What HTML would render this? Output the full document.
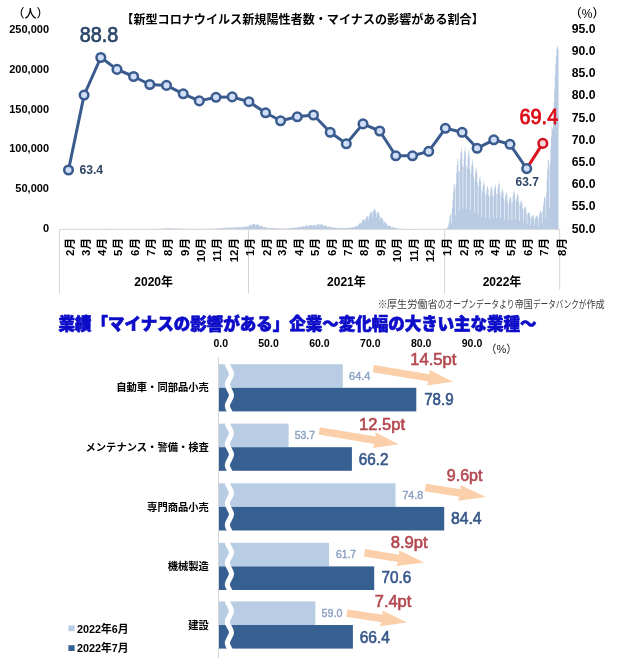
<!DOCTYPE html>
<html lang="ja"><head><meta charset="utf-8"><title>chart</title>
<style>html,body{margin:0;padding:0;background:#fff}svg{display:block}</style></head>
<body>
<svg width="619" height="658" viewBox="0 0 619 658" font-family='"Liberation Sans", "Noto Sans CJK JP", sans-serif'>
<rect width="619" height="658" fill="#fff"/>
<text x="121.3" y="24.0" font-size="12" font-weight="bold" fill="#000" textLength="362.5" lengthAdjust="spacingAndGlyphs">【新型コロナウイルス新規陽性者数・マイナスの影響がある割合】</text>
<text x="30.4" y="17.9" font-size="12" font-weight="500" fill="#000" text-anchor="middle">（人）</text>
<text x="587.2" y="17.6" font-size="12" font-weight="500" fill="#000" text-anchor="middle">（%）</text>
<text x="49.0" y="33.1" font-size="11" font-weight="bold" fill="#000" text-anchor="end">250,000</text>
<text x="49.0" y="72.8" font-size="11" font-weight="bold" fill="#000" text-anchor="end">200,000</text>
<text x="49.0" y="112.5" font-size="11" font-weight="bold" fill="#000" text-anchor="end">150,000</text>
<text x="49.0" y="152.3" font-size="11" font-weight="bold" fill="#000" text-anchor="end">100,000</text>
<text x="49.0" y="192.0" font-size="11" font-weight="bold" fill="#000" text-anchor="end">50,000</text>
<text x="49.0" y="231.8" font-size="11" font-weight="bold" fill="#000" text-anchor="end">0</text>
<text x="571.7" y="32.7" font-size="12.2" font-weight="bold" fill="#000" textLength="23.8" lengthAdjust="spacingAndGlyphs">95.0</text>
<text x="571.7" y="54.9" font-size="12.2" font-weight="bold" fill="#000" textLength="23.8" lengthAdjust="spacingAndGlyphs">90.0</text>
<text x="571.7" y="77.1" font-size="12.2" font-weight="bold" fill="#000" textLength="23.8" lengthAdjust="spacingAndGlyphs">85.0</text>
<text x="571.7" y="99.3" font-size="12.2" font-weight="bold" fill="#000" textLength="23.8" lengthAdjust="spacingAndGlyphs">80.0</text>
<text x="571.7" y="121.5" font-size="12.2" font-weight="bold" fill="#000" textLength="23.8" lengthAdjust="spacingAndGlyphs">75.0</text>
<text x="571.7" y="143.7" font-size="12.2" font-weight="bold" fill="#000" textLength="23.8" lengthAdjust="spacingAndGlyphs">70.0</text>
<text x="571.7" y="165.9" font-size="12.2" font-weight="bold" fill="#000" textLength="23.8" lengthAdjust="spacingAndGlyphs">65.0</text>
<text x="571.7" y="188.1" font-size="12.2" font-weight="bold" fill="#000" textLength="23.8" lengthAdjust="spacingAndGlyphs">60.0</text>
<text x="571.7" y="210.3" font-size="12.2" font-weight="bold" fill="#000" textLength="23.8" lengthAdjust="spacingAndGlyphs">55.0</text>
<text x="571.7" y="232.5" font-size="12.2" font-weight="bold" fill="#000" textLength="23.8" lengthAdjust="spacingAndGlyphs">50.0</text>
<path d="M58.89 229.30V229.30H59.42V229.30H59.96V229.30H60.50V229.30H61.04V229.30H61.58V229.30H62.12V229.30H62.65V229.30H63.19V229.30H63.73V229.30H64.27V229.30H64.81V229.30H65.35V229.30H65.88V229.30H66.42V229.30H66.96V229.30H67.50V229.30H68.04V229.30H68.58V229.30H69.12V229.30H69.65V229.30H70.19V229.30H70.73V229.30H71.27V229.30H71.81V229.30H72.35V229.30H72.88V229.30H73.42V229.29H73.96V229.29H74.50V229.30H75.04V229.29H75.58V229.29H76.11V229.29H76.65V229.29H77.19V229.29H77.73V229.29H78.27V229.29H78.81V229.29H79.34V229.29H79.88V229.29H80.42V229.29H80.96V229.29H81.50V229.29H82.04V229.29H82.58V229.29H83.11V229.29H83.65V229.29H84.19V229.28H84.73V229.28H85.27V229.28H85.81V229.29H86.34V229.28H86.88V229.28H87.42V229.28H87.96V229.27H88.50V229.27H89.04V229.27H89.57V229.28H90.11V229.27H90.65V229.27H91.19V229.26H91.73V229.26H92.27V229.26H92.80V229.26H93.34V229.27H93.88V229.25H94.42V229.25H94.96V229.24H95.50V229.23H96.04V229.23H96.57V229.23H97.11V229.24H97.65V229.20H98.19V229.18H98.73V229.16H99.27V229.13H99.80V229.11H100.34V229.11H100.88V229.15H101.42V229.07H101.96V229.03H102.50V229.00H103.03V228.96H103.57V228.94H104.11V228.94H104.65V229.03H105.19V228.90H105.73V228.85H106.26V228.84H106.80V228.85H107.34V228.88H107.88V228.92H108.42V229.04H108.96V228.95H109.50V228.94H110.03V228.93H110.57V228.94H111.11V228.98H111.65V229.02H112.19V229.11H112.73V229.05H113.26V229.05H113.80V229.05H114.34V229.06H114.88V229.08H115.42V229.11H115.96V229.17H116.49V229.14H117.03V229.14H117.57V229.15H118.11V229.16H118.65V229.18H119.19V229.20H119.72V229.23H120.26V229.21H120.80V229.22H121.34V229.22H121.88V229.23H122.42V229.23H122.96V229.24H123.49V229.26H124.03V229.25H124.57V229.26H125.11V229.26H125.65V229.26H126.19V229.27H126.72V229.27H127.26V229.28H127.80V229.27H128.34V229.27H128.88V229.27H129.42V229.27H129.95V229.27H130.49V229.27H131.03V229.28H131.57V229.27H132.11V229.27H132.65V229.27H133.18V229.27H133.72V229.27H134.26V229.27H134.80V229.28H135.34V229.27H135.88V229.26H136.42V229.26H136.95V229.26H137.49V229.26H138.03V229.26H138.57V229.27H139.11V229.26H139.65V229.26H140.18V229.26H140.72V229.25H141.26V229.25H141.80V229.25H142.34V229.27H142.88V229.25H143.41V229.24H143.95V229.24H144.49V229.23H145.03V229.23H145.57V229.24H146.11V229.25H146.64V229.23H147.18V229.21H147.72V229.20H148.26V229.19H148.80V229.19H149.34V229.19H149.88V229.21H150.41V229.17H150.95V229.14H151.49V229.12H152.03V229.10H152.57V229.09H153.11V229.08H153.64V229.13H154.18V229.05H154.72V229.01H155.26V228.99H155.80V228.96H156.34V228.95H156.87V228.95H157.41V229.04H157.95V228.91H158.49V228.86H159.03V228.81H159.57V228.77H160.10V228.75H160.64V228.76H161.18V228.89H161.72V228.69H162.26V228.60H162.80V228.52H163.34V228.45H163.87V228.42H164.41V228.43H164.95V228.65H165.49V228.32H166.03V228.24H166.57V228.18H167.10V228.14H167.64V228.16H168.18V228.23H168.72V228.54H169.26V228.22H169.80V228.18H170.33V228.17H170.87V228.18H171.41V228.26H171.95V228.37H172.49V228.67H173.03V228.44H173.56V228.40H174.10V228.39H174.64V228.39H175.18V228.45H175.72V228.53H176.26V228.77H176.80V228.58H177.33V228.55H177.87V228.54H178.41V228.54H178.95V228.59H179.49V228.67H180.03V228.88H180.56V228.73H181.10V228.71H181.64V228.71H182.18V228.72H182.72V228.76H183.26V228.82H183.79V228.98H184.33V228.86H184.87V228.83H185.41V228.82H185.95V228.82H186.49V228.84H187.02V228.88H187.56V229.01H188.10V228.89H188.64V228.87H189.18V228.86H189.72V228.85H190.26V228.87H190.79V228.91H191.33V229.03H191.87V228.92H192.41V228.90H192.95V228.88H193.49V228.87H194.02V228.88H194.56V228.91H195.10V229.02H195.64V228.91H196.18V228.88H196.72V228.86H197.25V228.84H197.79V228.86H198.33V228.89H198.87V229.01H199.41V228.89H199.95V228.86H200.48V228.84H201.02V228.83H201.56V228.85H202.10V228.88H202.64V229.01H203.18V228.89H203.72V228.86H204.25V228.84H204.79V228.83H205.33V228.84H205.87V228.88H206.41V229.00H206.95V228.87H207.48V228.83H208.02V228.80H208.56V228.78H209.10V228.79H209.64V228.82H210.18V228.96H210.71V228.81H211.25V228.77H211.79V228.74H212.33V228.71H212.87V228.72H213.41V228.76H213.94V228.91H214.48V228.75H215.02V228.70H215.56V228.64H216.10V228.59H216.64V228.57H217.18V228.60H217.71V228.78H218.25V228.53H218.79V228.43H219.33V228.35H219.87V228.27H220.41V228.25H220.94V228.27H221.48V228.54H222.02V228.17H222.56V228.01H223.10V227.88H223.64V227.76H224.17V227.73H224.71V227.76H225.25V228.16H225.79V227.69H226.33V227.56H226.87V227.49H227.40V227.44H227.94V227.50H228.48V227.63H229.02V228.12H229.56V227.64H230.10V227.51H230.64V227.44H231.17V227.38H231.71V227.42H232.25V227.53H232.79V228.04H233.33V227.50H233.87V227.34H234.40V227.23H234.94V227.14H235.48V227.18H236.02V227.31H236.56V227.89H237.10V227.32H237.63V227.15H238.17V227.06H238.71V226.98H239.25V227.04H239.79V227.20H240.33V227.82H240.86V227.21H241.40V227.03H241.94V226.89H242.48V226.76H243.02V226.78H243.56V226.92H244.10V227.58H244.63V226.83H245.17V226.58H245.71V226.40H246.25V226.25H246.79V226.28H247.33V226.44H247.86V227.15H248.40V226.09H248.94V225.62H249.48V225.22H250.02V224.83H250.56V224.69H251.09V224.76H251.63V225.90H252.17V224.43H252.71V223.96H253.25V223.64H253.79V223.63H254.32V223.95H254.86V224.47H255.40V225.99H255.94V224.77H256.48V224.54H257.02V224.47H257.56V224.46H258.09V224.73H258.63V225.32H259.17V226.66H259.71V225.80H260.25V225.75H260.79V225.82H261.32V225.92H261.86V226.22H262.40V226.61H262.94V227.52H263.48V226.94H264.02V226.90H264.55V226.95H265.09V227.01H265.63V227.20H266.17V227.46H266.71V228.07H267.25V227.67H267.78V227.64H268.32V227.66H268.86V227.70H269.40V227.84H269.94V228.00H270.48V228.42H271.02V228.10H271.55V228.06H272.09V228.06H272.63V228.07H273.17V228.15H273.71V228.28H274.25V228.61H274.78V228.36H275.32V228.31H275.86V228.30H276.40V228.29H276.94V228.35H277.48V228.44H278.01V228.71H278.55V228.49H279.09V228.44H279.63V228.43H280.17V228.40H280.71V228.42H281.24V228.48H281.78V228.72H282.32V228.48H282.86V228.42H283.40V228.38H283.94V228.34H284.48V228.37H285.01V228.42H285.55V228.67H286.09V228.40H286.63V228.31H287.17V228.25H287.71V228.20H288.24V228.21H288.78V228.27H289.32V228.56H289.86V228.25H290.40V228.12H290.94V228.02H291.47V227.92H292.01V227.91H292.55V227.96H293.09V228.32H293.63V227.86H294.17V227.68H294.70V227.55H295.24V227.42H295.78V227.40H296.32V227.47H296.86V227.97H297.40V227.37H297.94V227.14H298.47V226.98H299.01V226.83H299.55V226.83H300.09V226.94H300.63V227.58H301.17V226.80H301.70V226.53H302.24V226.33H302.78V226.16H303.32V226.17H303.86V226.32H304.40V227.14H304.93V226.18H305.47V225.83H306.01V225.59H306.55V225.37H307.09V225.46H307.63V225.71H308.16V226.74H308.70V225.67H309.24V225.35H309.78V225.15H310.32V224.98H310.86V225.08H311.40V225.35H311.93V226.49H312.47V225.32H313.01V225.13H313.55V225.08H314.09V225.09H314.63V225.34H315.16V225.47H315.70V226.48H316.24V225.16H316.78V224.64H317.32V224.23H317.86V223.85H318.39V223.79H318.93V224.33H319.47V225.89H320.01V224.64H320.55V224.41H321.09V224.35H321.62V224.34H322.16V224.62H322.70V225.09H323.24V226.48H323.78V225.53H324.32V225.44H324.86V225.48H325.39V225.57H325.93V225.86H326.47V226.28H327.01V227.28H327.55V226.60H328.09V226.53H328.62V226.56H329.16V226.62H329.70V226.83H330.24V227.12H330.78V227.84H331.32V227.34H331.85V227.29H332.39V227.31H332.93V227.35H333.47V227.50H334.01V227.71H334.55V228.22H335.08V227.83H335.62V227.78H336.16V227.77H336.70V227.78H337.24V227.88H337.78V228.03H338.32V228.44H338.85V228.13H339.39V228.08H339.93V228.03H340.47V227.98H341.01V228.02H341.55V228.11H342.08V228.45H342.62V228.10H343.16V228.00H343.70V227.94H344.24V227.90H344.78V227.93H345.31V228.03H345.85V228.38H346.39V227.97H346.93V227.83H347.47V227.73H348.01V227.64H348.54V227.65H349.08V227.73H349.62V228.16H350.16V227.66H350.70V227.45H351.24V227.28H351.78V227.11H352.31V227.08H352.85V227.15H353.39V227.71H353.93V226.95H354.47V226.65H355.01V226.40H355.54V226.17H356.08V226.00H356.62V225.96H357.16V226.73H357.70V225.36H358.24V224.66H358.77V224.02H359.31V223.37H359.85V223.03H360.39V222.96H360.93V224.42H361.47V221.81H362.00V220.49H362.54V219.83H363.08V219.23H363.62V219.23H364.16V219.67H364.70V222.29H365.24V219.13H365.77V217.97H366.31V217.12H366.85V216.35H367.39V216.25H367.93V216.72H368.47V220.07H369.00V215.80H369.54V214.14H370.08V212.87H370.62V211.69H371.16V211.54H371.70V212.19H372.23V216.74H372.77V211.64H373.31V210.25H373.85V209.45H374.39V208.85H374.93V209.48H375.46V211.58H376.00V217.24H376.54V212.93H377.08V212.25H377.62V212.16H378.16V212.26H378.70V213.36H379.23V215.50H379.77V220.20H380.31V217.33H380.85V217.23H381.39V217.54H381.93V217.98H382.46V219.04H383.00V220.41H383.54V223.44H384.08V221.82H384.62V221.96H385.16V222.36H385.69V222.80H386.23V223.58H386.77V224.48H387.31V226.21H387.85V225.36H388.39V225.44H388.92V225.64H389.46V225.83H390.00V226.20H390.54V226.65H391.08V227.58H391.62V227.07H392.16V227.08H392.69V227.17H393.23V227.28H393.77V227.49H394.31V227.76H394.85V228.30H395.39V228.01H395.92V228.04H396.46V228.10H397.00V228.18H397.54V228.31H398.08V228.47H398.62V228.77H399.15V228.62H399.69V228.63H400.23V228.65H400.77V228.68H401.31V228.75H401.85V228.83H402.38V228.99H402.92V228.90H403.46V228.90H404.00V228.92H404.54V228.93H405.08V228.97H405.62V229.01H406.15V229.10H406.69V229.03H407.23V229.02H407.77V229.02H408.31V229.02H408.85V229.04H409.38V229.07H409.92V229.15H410.46V229.09H411.00V229.08H411.54V229.08H412.08V229.08H412.61V229.10H413.15V229.12H413.69V229.18H414.23V229.13H414.77V229.13H415.31V229.13H415.84V229.13H416.38V229.14H416.92V229.16H417.46V229.20H418.00V229.17H418.54V229.16H419.08V229.16H419.61V229.16H420.15V229.17H420.69V229.18H421.23V229.22H421.77V229.19H422.31V229.18H422.84V229.18H423.38V229.18H423.92V229.19H424.46V229.20H425.00V229.23H425.54V229.21H426.07V229.20H426.61V229.20H427.15V229.20H427.69V229.21H428.23V229.21H428.77V229.24H429.30V229.21H429.84V229.20H430.38V229.20H430.92V229.19H431.46V229.19H432.00V229.20H432.54V229.23H433.07V229.20H433.61V229.19H434.15V229.18H434.69V229.18H435.23V229.18H435.77V229.18H436.30V229.21H436.84V229.17H437.38V229.15H437.92V229.13H438.46V229.12H439.00V229.11H439.53V229.12H440.07V229.16H440.61V229.10H441.15V229.06H441.69V229.03H442.23V229.00H442.76V228.99H443.30V228.99H443.84V229.07H444.38V228.88H444.92V228.71H445.46V228.76H446.00V228.13H446.53V227.65H447.07V227.11H447.61V228.28H448.15V225.26H448.69V222.47H449.23V219.48H449.76V216.32H450.30V213.84H450.84V213.48H451.38V223.32H451.92V208.17H452.46V199.79H452.99V192.35H453.53V185.04H454.07V184.06H454.61V188.39H455.15V215.24H455.69V184.27H456.22V173.11H456.76V165.03H457.30V158.13H457.84V161.55H458.38V171.18H458.92V210.25H459.46V170.90H459.99V159.30H460.53V152.15H461.07V146.41H461.61V151.82H462.15V164.40H462.69V208.53H463.22V167.07H463.76V156.37H464.30V150.68H464.84V146.65H465.38V152.68H465.92V165.38H466.45V208.92H466.99V168.50H467.53V158.35H468.07V153.12H468.61V149.55H469.15V155.77H469.68V168.83H470.22V210.30H470.76V173.47H471.30V165.15H471.84V161.51H472.38V159.49H472.92V165.81H473.45V177.07H473.99V212.81H474.53V180.55H475.07V172.97H475.61V169.42H476.15V167.25H476.68V172.50H477.22V182.72H477.76V214.72H478.30V186.60H478.84V180.43H479.38V177.86H479.91V176.55H480.45V181.50H480.99V189.65H481.53V216.73H482.07V192.02H482.61V186.06H483.14V183.16H483.68V181.29H484.22V185.18H484.76V192.82H485.30V217.78H485.84V195.24H486.38V189.93H486.91V187.45H487.45V185.92H487.99V189.59H488.53V195.87H489.07V218.53H489.61V196.83H490.14V191.01H490.68V187.75H491.22V185.35H491.76V188.22H492.30V194.73H492.84V218.19H493.37V195.88H493.91V189.98H494.45V186.74H494.99V184.38H495.53V187.41H496.07V193.81H496.60V217.81H497.14V194.48H497.68V188.03H498.22V184.31H498.76V181.48H499.30V184.59H499.84V192.77H500.37V217.90H500.91V196.04H501.45V191.36H501.99V189.53H502.53V188.68H503.07V192.62H503.60V198.81H504.14V219.61H504.68V200.50H505.22V195.82H505.76V193.49H506.30V191.95H506.83V194.97H507.37V201.13H507.91V220.47H508.45V203.42H508.99V199.65H509.53V198.05H510.06V196.74H510.60V197.99H511.14V202.18H511.68V220.33H512.22V201.57H512.76V195.79H513.30V192.08H513.83V190.13H514.37V193.23H514.91V199.35H515.45V219.80H515.99V201.08H516.53V196.52H517.06V194.28H517.60V193.16H518.14V196.66H518.68V202.74H519.22V221.05H519.76V205.33H520.29V202.09H520.83V200.92H521.37V200.43H521.91V203.25H522.45V208.12H522.99V222.73H523.52V210.22H524.06V207.67H524.60V206.76H525.14V206.44H525.68V208.83H526.22V212.80H526.76V224.23H527.29V214.73H527.83V212.96H528.37V212.47H528.91V212.44H529.45V214.22H529.99V216.90H530.52V225.41H531.06V217.86H531.60V216.17H532.14V215.43H532.68V215.02H533.22V216.32H533.75V218.42H534.29V225.81H534.83V218.84H535.37V217.02H535.91V216.05H536.45V215.35H536.98V216.33H537.52V218.03H538.06V225.46H538.60V217.10H539.14V214.19H539.68V212.13H540.22V210.31H540.75V210.80H541.29V213.07H541.83V223.72H542.37V211.03H542.91V206.09H543.45V202.32H543.98V197.61H544.52V196.15H545.06V198.42H545.60V218.41H546.14V193.16H546.68V180.37H547.21V169.44H547.75V159.72H548.29V159.61H548.83V166.66H549.37V208.04H549.91V162.54H550.44V147.46H550.98V136.34H551.52V126.59H552.06V129.26H552.60V127.94H553.14V115.38H553.68V102.27H554.21V89.19H554.75V75.66H555.29V64.25H555.83V56.81H556.37V49.37H556.91V45.05H557.44V47.19H557.98V49.34H558.52V229.30Z" fill="#b8cbe3"/>
<path d="M59.4 229.3H559.7" stroke="#d4d4d4" stroke-width="1" fill="none"/>
<path d="M59.4 229.3V293.6" stroke="#d4d4d4" stroke-width="1" fill="none"/>
<path d="M248.5 229.3V293.6" stroke="#d4d4d4" stroke-width="1" fill="none"/>
<path d="M444.6 229.3V293.6" stroke="#d4d4d4" stroke-width="1" fill="none"/>
<path d="M559.7 229.3V290" stroke="#d4d4d4" stroke-width="1" fill="none"/>
<text transform="translate(73.9 238.0) rotate(-90)" font-size="11.5" font-weight="bold" text-anchor="end">2月</text>
<text transform="translate(89.5 238.0) rotate(-90)" font-size="11.5" font-weight="bold" text-anchor="end">3月</text>
<text transform="translate(106.2 238.0) rotate(-90)" font-size="11.5" font-weight="bold" text-anchor="end">4月</text>
<text transform="translate(122.4 238.0) rotate(-90)" font-size="11.5" font-weight="bold" text-anchor="end">5月</text>
<text transform="translate(139.0 238.0) rotate(-90)" font-size="11.5" font-weight="bold" text-anchor="end">6月</text>
<text transform="translate(155.2 238.0) rotate(-90)" font-size="11.5" font-weight="bold" text-anchor="end">7月</text>
<text transform="translate(171.9 238.0) rotate(-90)" font-size="11.5" font-weight="bold" text-anchor="end">8月</text>
<text transform="translate(188.6 238.0) rotate(-90)" font-size="11.5" font-weight="bold" text-anchor="end">9月</text>
<text transform="translate(204.7 238.0) rotate(-90)" font-size="11.5" font-weight="bold" text-anchor="end">10月</text>
<text transform="translate(221.4 238.0) rotate(-90)" font-size="11.5" font-weight="bold" text-anchor="end">11月</text>
<text transform="translate(237.6 238.0) rotate(-90)" font-size="11.5" font-weight="bold" text-anchor="end">12月</text>
<text transform="translate(254.3 238.0) rotate(-90)" font-size="11.5" font-weight="bold" text-anchor="end">1月</text>
<text transform="translate(271.0 238.0) rotate(-90)" font-size="11.5" font-weight="bold" text-anchor="end">2月</text>
<text transform="translate(286.0 238.0) rotate(-90)" font-size="11.5" font-weight="bold" text-anchor="end">3月</text>
<text transform="translate(302.7 238.0) rotate(-90)" font-size="11.5" font-weight="bold" text-anchor="end">4月</text>
<text transform="translate(318.9 238.0) rotate(-90)" font-size="11.5" font-weight="bold" text-anchor="end">5月</text>
<text transform="translate(335.6 238.0) rotate(-90)" font-size="11.5" font-weight="bold" text-anchor="end">6月</text>
<text transform="translate(351.7 238.0) rotate(-90)" font-size="11.5" font-weight="bold" text-anchor="end">7月</text>
<text transform="translate(368.4 238.0) rotate(-90)" font-size="11.5" font-weight="bold" text-anchor="end">8月</text>
<text transform="translate(385.1 238.0) rotate(-90)" font-size="11.5" font-weight="bold" text-anchor="end">9月</text>
<text transform="translate(401.2 238.0) rotate(-90)" font-size="11.5" font-weight="bold" text-anchor="end">10月</text>
<text transform="translate(417.9 238.0) rotate(-90)" font-size="11.5" font-weight="bold" text-anchor="end">11月</text>
<text transform="translate(434.1 238.0) rotate(-90)" font-size="11.5" font-weight="bold" text-anchor="end">12月</text>
<text transform="translate(450.8 238.0) rotate(-90)" font-size="11.5" font-weight="bold" text-anchor="end">1月</text>
<text transform="translate(467.5 238.0) rotate(-90)" font-size="11.5" font-weight="bold" text-anchor="end">2月</text>
<text transform="translate(482.5 238.0) rotate(-90)" font-size="11.5" font-weight="bold" text-anchor="end">3月</text>
<text transform="translate(499.2 238.0) rotate(-90)" font-size="11.5" font-weight="bold" text-anchor="end">4月</text>
<text transform="translate(515.4 238.0) rotate(-90)" font-size="11.5" font-weight="bold" text-anchor="end">5月</text>
<text transform="translate(532.1 238.0) rotate(-90)" font-size="11.5" font-weight="bold" text-anchor="end">6月</text>
<text transform="translate(548.2 238.0) rotate(-90)" font-size="11.5" font-weight="bold" text-anchor="end">7月</text>
<text transform="translate(565.6 238.0) rotate(-90)" font-size="11.5" font-weight="bold" text-anchor="end">8月</text>
<text x="153.7" y="286.4" font-size="12" font-weight="bold" fill="#000" text-anchor="middle">2020年</text>
<text x="346.4" y="286.4" font-size="12" font-weight="bold" fill="#000" text-anchor="middle">2021年</text>
<text x="502.0" y="286.4" font-size="12" font-weight="bold" fill="#000" text-anchor="middle">2022年</text>
<polyline points="68.5,170.0 84.1,95.1 100.8,57.5 117.0,69.4 133.6,76.5 149.8,84.5 166.5,85.4 183.2,93.8 199.3,100.9 216.0,97.3 232.2,96.9 248.9,101.7 265.6,112.8 280.6,120.8 297.3,116.8 313.5,115.0 330.2,132.3 346.3,143.8 363.0,123.9 379.7,131.0 395.8,155.8 412.5,155.8 428.7,151.4 445.4,128.3 462.1,132.3 477.1,148.3 493.8,139.8 510.0,144.3 526.7,168.6" fill="none" stroke="#3a5b8e" stroke-width="3.0" stroke-linejoin="round"/>
<path d="M526.7 168.6L542.8 143.4" stroke="#dc1420" stroke-width="3.0" fill="none"/>
<circle cx="68.5" cy="170.0" r="4.3" fill="#d0def7" stroke="#3a5b8e" stroke-width="2.5"/>
<circle cx="84.1" cy="95.1" r="4.3" fill="#d0def7" stroke="#3a5b8e" stroke-width="2.5"/>
<circle cx="100.8" cy="57.5" r="4.3" fill="#d0def7" stroke="#3a5b8e" stroke-width="2.5"/>
<circle cx="117.0" cy="69.4" r="4.3" fill="#d0def7" stroke="#3a5b8e" stroke-width="2.5"/>
<circle cx="133.6" cy="76.5" r="4.3" fill="#d0def7" stroke="#3a5b8e" stroke-width="2.5"/>
<circle cx="149.8" cy="84.5" r="4.3" fill="#d0def7" stroke="#3a5b8e" stroke-width="2.5"/>
<circle cx="166.5" cy="85.4" r="4.3" fill="#d0def7" stroke="#3a5b8e" stroke-width="2.5"/>
<circle cx="183.2" cy="93.8" r="4.3" fill="#d0def7" stroke="#3a5b8e" stroke-width="2.5"/>
<circle cx="199.3" cy="100.9" r="4.3" fill="#d0def7" stroke="#3a5b8e" stroke-width="2.5"/>
<circle cx="216.0" cy="97.3" r="4.3" fill="#d0def7" stroke="#3a5b8e" stroke-width="2.5"/>
<circle cx="232.2" cy="96.9" r="4.3" fill="#d0def7" stroke="#3a5b8e" stroke-width="2.5"/>
<circle cx="248.9" cy="101.7" r="4.3" fill="#d0def7" stroke="#3a5b8e" stroke-width="2.5"/>
<circle cx="265.6" cy="112.8" r="4.3" fill="#d0def7" stroke="#3a5b8e" stroke-width="2.5"/>
<circle cx="280.6" cy="120.8" r="4.3" fill="#d0def7" stroke="#3a5b8e" stroke-width="2.5"/>
<circle cx="297.3" cy="116.8" r="4.3" fill="#d0def7" stroke="#3a5b8e" stroke-width="2.5"/>
<circle cx="313.5" cy="115.0" r="4.3" fill="#d0def7" stroke="#3a5b8e" stroke-width="2.5"/>
<circle cx="330.2" cy="132.3" r="4.3" fill="#d0def7" stroke="#3a5b8e" stroke-width="2.5"/>
<circle cx="346.3" cy="143.8" r="4.3" fill="#d0def7" stroke="#3a5b8e" stroke-width="2.5"/>
<circle cx="363.0" cy="123.9" r="4.3" fill="#d0def7" stroke="#3a5b8e" stroke-width="2.5"/>
<circle cx="379.7" cy="131.0" r="4.3" fill="#d0def7" stroke="#3a5b8e" stroke-width="2.5"/>
<circle cx="395.8" cy="155.8" r="4.3" fill="#d0def7" stroke="#3a5b8e" stroke-width="2.5"/>
<circle cx="412.5" cy="155.8" r="4.3" fill="#d0def7" stroke="#3a5b8e" stroke-width="2.5"/>
<circle cx="428.7" cy="151.4" r="4.3" fill="#d0def7" stroke="#3a5b8e" stroke-width="2.5"/>
<circle cx="445.4" cy="128.3" r="4.3" fill="#d0def7" stroke="#3a5b8e" stroke-width="2.5"/>
<circle cx="462.1" cy="132.3" r="4.3" fill="#d0def7" stroke="#3a5b8e" stroke-width="2.5"/>
<circle cx="477.1" cy="148.3" r="4.3" fill="#d0def7" stroke="#3a5b8e" stroke-width="2.5"/>
<circle cx="493.8" cy="139.8" r="4.3" fill="#d0def7" stroke="#3a5b8e" stroke-width="2.5"/>
<circle cx="510.0" cy="144.3" r="4.3" fill="#d0def7" stroke="#3a5b8e" stroke-width="2.5"/>
<circle cx="526.7" cy="168.6" r="4.3" fill="#d0def7" stroke="#3a5b8e" stroke-width="2.5"/>
<circle cx="542.8" cy="143.4" r="4.3" fill="#f5d5dc" stroke="#d4101c" stroke-width="2.5"/>
<text x="79.4" y="174.0" font-size="12" font-weight="bold" fill="#2e4566" textLength="23.7" lengthAdjust="spacingAndGlyphs">63.4</text>
<text x="515.5" y="186.1" font-size="12" font-weight="bold" fill="#2e4566" textLength="23.3" lengthAdjust="spacingAndGlyphs">63.7</text>
<text x="79.8" y="42.4" font-size="21.2" font-weight="normal" fill="#2c4668" textLength="38.6" lengthAdjust="spacingAndGlyphs" stroke="#2c4668" stroke-width="0.7">88.8</text>
<text x="519.5" y="124.0" font-size="22.0" font-weight="normal" fill="#da0a14" textLength="38.7" lengthAdjust="spacingAndGlyphs" stroke="#da0a14" stroke-width="0.8">69.4</text>
<text x="377.6" y="307.9" font-size="10.2" font-weight="normal" fill="#3c3c3c" textLength="10.2" lengthAdjust="spacingAndGlyphs">※</text>
<text x="386.9" y="307.9" font-size="10.2" font-weight="normal" fill="#3c3c3c" textLength="50.8" lengthAdjust="spacingAndGlyphs">厚生労働省</text>
<text x="437.8" y="307.9" font-size="10.2" font-weight="normal" fill="#3c3c3c" textLength="61.3" lengthAdjust="spacingAndGlyphs">のオープンデータ</text>
<text x="499.3" y="307.9" font-size="10.2" font-weight="normal" fill="#3c3c3c" textLength="15.2" lengthAdjust="spacingAndGlyphs">より</text>
<text x="514.7" y="307.9" font-size="10.2" font-weight="normal" fill="#3c3c3c" textLength="18.0" lengthAdjust="spacingAndGlyphs">帝国</text>
<text x="533.0" y="307.9" font-size="10.2" font-weight="normal" fill="#3c3c3c" textLength="53.4" lengthAdjust="spacingAndGlyphs">データバンクが</text>
<text x="586.4" y="307.9" font-size="10.2" font-weight="normal" fill="#3c3c3c" textLength="18.4" lengthAdjust="spacingAndGlyphs">作成</text>
<text x="58.6" y="330.3" font-size="16.6" font-weight="900" fill="#0c0cc8" textLength="478.0" lengthAdjust="spacingAndGlyphs" stroke="#0c0cc8" stroke-width="0.7" stroke-linejoin="round">業績「マイナスの影響がある」企業～変化幅の大きい主な業種～</text>
<text x="220.7" y="346.8" font-size="10.5" font-weight="bold" fill="#000" text-anchor="middle">0.0</text>
<text x="268.5" y="346.8" font-size="10.5" font-weight="bold" fill="#000" text-anchor="middle">50.0</text>
<text x="319.4" y="346.8" font-size="10.5" font-weight="bold" fill="#000" text-anchor="middle">60.0</text>
<text x="370.3" y="346.8" font-size="10.5" font-weight="bold" fill="#000" text-anchor="middle">70.0</text>
<text x="421.2" y="346.8" font-size="10.5" font-weight="bold" fill="#000" text-anchor="middle">80.0</text>
<text x="472.0" y="346.8" font-size="10.5" font-weight="bold" fill="#000" text-anchor="middle">90.0</text>
<text x="501.3" y="352.6" font-size="11" font-weight="normal" fill="#222" text-anchor="middle">（%）</text>
<path d="M218.5 357V658" stroke="#d4d4d4" stroke-width="1" fill="none"/>
<rect x="219" y="364.2" width="123.8" height="23.6" fill="#b8cce4"/>
<rect x="219" y="387.8" width="197.3" height="23.6" fill="#366092"/>
<path d="M227.3 363.3C227.3 366.9 231.5 370.3 231.5 373.9C231.5 377.5 227.3 380.9 227.3 384.5C227.3 388.1 231.5 391.6 231.5 395.2C231.5 398.8 227.3 402.2 227.3 405.8C227.3 409.4 231.5 412.8 231.5 416.4" fill="none" stroke="#fff" stroke-width="5.1"/>
<text x="208.9" y="391.4" font-size="10.3" font-weight="bold" fill="#000" text-anchor="end">自動車・同部品小売</text>
<rect x="219" y="423.6" width="69.6" height="23.6" fill="#b8cce4"/>
<rect x="219" y="447.2" width="132.9" height="23.6" fill="#366092"/>
<path d="M227.3 422.7C227.3 426.3 231.5 429.7 231.5 433.3C231.5 436.9 227.3 440.3 227.3 443.9C227.3 447.5 231.5 451.0 231.5 454.6C231.5 458.2 227.3 461.6 227.3 465.2C227.3 468.8 231.5 472.2 231.5 475.8" fill="none" stroke="#fff" stroke-width="5.1"/>
<text x="208.9" y="450.8" font-size="10.3" font-weight="bold" fill="#000" text-anchor="end">メンテナンス・警備・検査</text>
<rect x="219" y="483.3" width="176.5" height="23.6" fill="#b8cce4"/>
<rect x="219" y="506.9" width="225.2" height="23.6" fill="#366092"/>
<path d="M227.3 482.4C227.3 486.0 231.5 489.4 231.5 493.0C231.5 496.6 227.3 500.0 227.3 503.6C227.3 507.2 231.5 510.7 231.5 514.3C231.5 517.9 227.3 521.3 227.3 524.9C227.3 528.5 231.5 531.9 231.5 535.5" fill="none" stroke="#fff" stroke-width="5.1"/>
<text x="208.9" y="510.5" font-size="10.3" font-weight="bold" fill="#000" text-anchor="end">専門商品小売</text>
<rect x="219" y="542.8" width="110.1" height="23.6" fill="#b8cce4"/>
<rect x="219" y="566.4" width="155.2" height="23.6" fill="#366092"/>
<path d="M227.3 541.9C227.3 545.5 231.5 548.9 231.5 552.5C231.5 556.1 227.3 559.5 227.3 563.1C227.3 566.7 231.5 570.2 231.5 573.8C231.5 577.4 227.3 580.8 227.3 584.4C227.3 588.0 231.5 591.4 231.5 595.0" fill="none" stroke="#fff" stroke-width="5.1"/>
<text x="208.9" y="570.0" font-size="10.3" font-weight="bold" fill="#000" text-anchor="end">機械製造</text>
<rect x="219" y="601.4" width="96.4" height="23.6" fill="#b8cce4"/>
<rect x="219" y="625.0" width="133.9" height="23.6" fill="#366092"/>
<path d="M227.3 600.5C227.3 604.1 231.5 607.5 231.5 611.1C231.5 614.7 227.3 618.1 227.3 621.7C227.3 625.3 231.5 628.8 231.5 632.4C231.5 636.0 227.3 639.4 227.3 643.0C227.3 646.6 231.5 650.0 231.5 653.6" fill="none" stroke="#fff" stroke-width="5.1"/>
<text x="208.9" y="628.6" font-size="10.3" font-weight="bold" fill="#000" text-anchor="end">建設</text>
<text x="349.1" y="379.8" font-size="11" font-weight="normal" fill="#8da2c2" textLength="21.4" lengthAdjust="spacingAndGlyphs" stroke="#8da2c2" stroke-width="0.45">64.4</text>
<text x="294.7" y="439.2" font-size="11" font-weight="normal" fill="#8da2c2" textLength="20.3" lengthAdjust="spacingAndGlyphs" stroke="#8da2c2" stroke-width="0.45">53.7</text>
<text x="402.4" y="498.9" font-size="11" font-weight="normal" fill="#8da2c2" textLength="20.8" lengthAdjust="spacingAndGlyphs" stroke="#8da2c2" stroke-width="0.45">74.8</text>
<text x="336.1" y="557.8" font-size="11" font-weight="normal" fill="#8da2c2" textLength="20.0" lengthAdjust="spacingAndGlyphs" stroke="#8da2c2" stroke-width="0.45">61.7</text>
<text x="321.6" y="617.2" font-size="11" font-weight="normal" fill="#8da2c2" textLength="20.8" lengthAdjust="spacingAndGlyphs" stroke="#8da2c2" stroke-width="0.45">59.0</text>
<text x="424.2" y="404.5" font-size="16.5" font-weight="normal" fill="#38588a" textLength="29.4" lengthAdjust="spacingAndGlyphs" stroke="#38588a" stroke-width="0.65">78.9</text>
<text x="358.8" y="465.4" font-size="16.5" font-weight="normal" fill="#38588a" textLength="29.7" lengthAdjust="spacingAndGlyphs" stroke="#38588a" stroke-width="0.65">66.2</text>
<text x="450.9" y="524.2" font-size="16.5" font-weight="normal" fill="#38588a" textLength="30.7" lengthAdjust="spacingAndGlyphs" stroke="#38588a" stroke-width="0.65">84.4</text>
<text x="381.6" y="583.2" font-size="16.5" font-weight="normal" fill="#38588a" textLength="29.7" lengthAdjust="spacingAndGlyphs" stroke="#38588a" stroke-width="0.65">70.6</text>
<text x="359.7" y="643.0" font-size="16.5" font-weight="normal" fill="#38588a" textLength="30.2" lengthAdjust="spacingAndGlyphs" stroke="#38588a" stroke-width="0.65">66.4</text>
<text x="410.2" y="365.2" font-size="15.8" font-weight="normal" fill="#b3474f" textLength="46.2" lengthAdjust="spacingAndGlyphs" stroke="#b3474f" stroke-width="0.6">14.5pt</text>
<text x="359.1" y="430.2" font-size="15.8" font-weight="normal" fill="#b3474f" textLength="45.9" lengthAdjust="spacingAndGlyphs" stroke="#b3474f" stroke-width="0.6">12.5pt</text>
<text x="446.8" y="480.6" font-size="15.8" font-weight="normal" fill="#b3474f" textLength="35.7" lengthAdjust="spacingAndGlyphs" stroke="#b3474f" stroke-width="0.6">9.6pt</text>
<text x="390.7" y="548.3" font-size="15.8" font-weight="normal" fill="#b3474f" textLength="37.0" lengthAdjust="spacingAndGlyphs" stroke="#b3474f" stroke-width="0.6">8.9pt</text>
<text x="374.8" y="607.3" font-size="15.8" font-weight="normal" fill="#b3474f" textLength="36.5" lengthAdjust="spacingAndGlyphs" stroke="#b3474f" stroke-width="0.6">7.4pt</text>
<path transform="translate(373.3 368.6) rotate(9.44)" d="M0 -3.75L56.5 -3.75L55.5 -8.0L80.5 0L55.5 8.0L56.5 3.75L0 3.75Z" fill="#fbcfa9"/>
<path transform="translate(319.3 430.9) rotate(9.58)" d="M0 -3.75L56.5 -3.75L55.5 -8.0L80.5 0L55.5 8.0L56.5 3.75L0 3.75Z" fill="#fbcfa9"/>
<path transform="translate(425.3 487.5) rotate(9.02)" d="M0 -3.75L35.3 -3.75L34.3 -8.0L61.3 0L34.3 8.0L35.3 3.75L0 3.75Z" fill="#fbcfa9"/>
<path transform="translate(364.6 552.8) rotate(9.34)" d="M0 -3.75L34.4 -3.75L33.4 -8.0L60.4 0L33.4 8.0L34.4 3.75L0 3.75Z" fill="#fbcfa9"/>
<path transform="translate(346.8 613.1) rotate(8.80)" d="M0 -3.75L35.8 -3.75L34.8 -8.0L60.8 0L34.8 8.0L35.8 3.75L0 3.75Z" fill="#fbcfa9"/>
<rect x="68.4" y="625.4" width="6.2" height="5.8" fill="#b8cce4"/>
<rect x="68.4" y="645.2" width="6.2" height="5.8" fill="#366092"/>
<text x="76.9" y="633.0" font-size="10.8" font-weight="bold" fill="#000" textLength="51.6" lengthAdjust="spacingAndGlyphs">2022年6月</text>
<text x="76.9" y="652.0" font-size="10.8" font-weight="bold" fill="#000" textLength="51.6" lengthAdjust="spacingAndGlyphs">2022年7月</text>
</svg>
</body></html>
